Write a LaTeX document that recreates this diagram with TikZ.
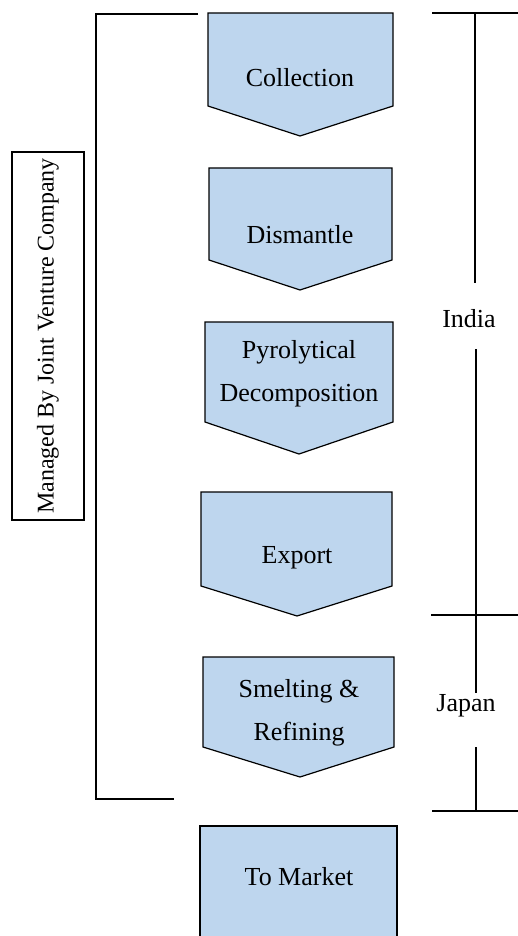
\documentclass[tikz,border=0pt]{standalone}
\usepackage{fontspec}
\setmainfont{Liberation Serif}
\usepackage{tikz}
\usetikzlibrary{positioning}
\definecolor{chevblue}{RGB}{190,214,238}
\tikzset{
  chev/.style  ={draw=black, fill=chevblue, line width=0.6pt, line join=miter},
  lbl/.style   ={align=center, font=\fontsize{13}{21.5}\selectfont, inner sep=0pt},
  brk/.style   ={draw=black, line width=1pt},
  reg/.style   ={draw=black, line width=0.75pt},
  mgr/.style   ={draw=black, line width=0.65pt, fill=white, minimum width=36pt,
                 minimum height=184pt, font=\fontsize{12}{14}\selectfont, inner sep=0pt},
}
\begin{document}
\begin{tikzpicture}[x=0.5pt,y=-0.5pt]
\useasboundingbox (0,0) rectangle (518,936);
\clip (0,0) rectangle (518,936);
% process steps
\draw[chev] (208,13) -- (393,13) -- (393,106) -- (300,136) -- (208,106) -- cycle;
\node[lbl] (coll) at (300,78) {Collection};
\draw[chev] (209,168) -- (392,168) -- (392,260) -- (300,290) -- (209,260) -- cycle;
\node[lbl] (dism) at (300,235) {Dismantle};
\draw[chev] (205,322) -- (393,322) -- (393,422) -- (299,454) -- (205,422) -- cycle;
\node[lbl] (pyro) at (299,374) {Pyrolytical\\Decomposition};
\draw[chev] (201,492) -- (392,492) -- (392,586) -- (297,616) -- (201,586) -- cycle;
\node[lbl] (expo) at (297,558) {Export};
\draw[chev] (203,657) -- (394,657) -- (394,747) -- (300,777) -- (203,747) -- cycle;
\node[lbl] (smelt) at (299,713) {Smelting \&\\Refining};
\draw[chev] (200,826) rectangle (397,960);
\node[lbl] (mkt) at (299,877) {To Market};
% joint venture bracket
\node[mgr] (jv) at (48,336) {\rotatebox{90}{Managed By Joint Venture Company}};
\draw[brk] (198,14) -- (96,14) -- (96,799) -- (174,799);
% country ranges
\draw[reg] (432,13) -- (518,13);
\draw[reg] (431,615) -- (518,615);
\draw[reg] (432,811) -- (518,811);
\node[lbl] (india) at (469,319) {India};
\node[lbl] (japan) at (466,706) {Japan};
\draw[reg] (475,13) -- (475,283);
\draw[reg] (476,349) -- (476,615);
\draw[reg] (476,615) -- (476,693);
\draw[reg] (476,747) -- (476,811);
\end{tikzpicture}
\end{document}
